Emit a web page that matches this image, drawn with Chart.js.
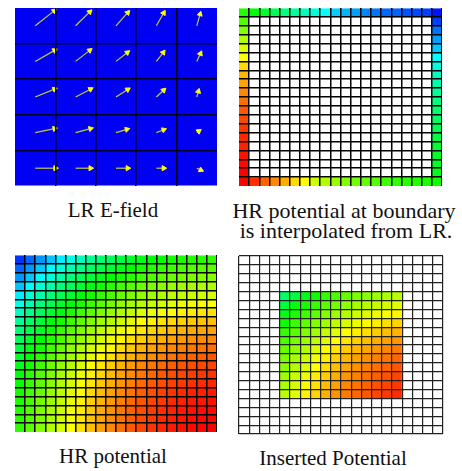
<!DOCTYPE html>
<html>
<head>
<meta charset="utf-8">
<script src="https://cdn.jsdelivr.net/npm/chart.js@4.4.1/dist/chart.umd.min.js"></script>
<style>
  body { margin: 0; background: #fff; }
  #fig { position: relative; width: 462px; height: 471px; overflow: hidden; }
  canvas { position: absolute; }
  .cap { position: absolute; font-family: "Liberation Serif", "Times New Roman", serif;
         font-size: 21px; line-height: 21px; color: #111; text-align: center; white-space: nowrap; width: 260px; }
  .cap.big { font-size: 22px; line-height: 22px; }
</style>
</head>
<body>
<div id="fig">
  <canvas id="p1" width="202" height="178" style="left:15px;top:8px"></canvas>
  <canvas id="p2" width="203" height="178" style="left:239px;top:8px"></canvas>
  <canvas id="p3" width="202" height="177" style="left:15px;top:255px"></canvas>
  <canvas id="p4" width="206" height="180" style="left:238px;top:255px"></canvas>
  <div class="cap" style="left:-17px;top:200px">LR E-field</div>
  <div class="cap big" style="left:214px;top:199.5px">HR potential at boundary</div>
  <div class="cap big" style="left:216px;top:220px">is interpolated from LR.</div>
  <div class="cap" style="left:-17px;top:446px">HR potential</div>
  <div class="cap" style="left:203px;top:448px">Inserted Potential</div>
</div>
<script>
// LR E-field: vector components per cell (cell units), rows top -> bottom
const fieldX = [
  [0.47, 0.35, 0.29, 0.18, 0.08],
  [0.48, 0.35, 0.28, 0.17, 0.09],
  [0.48, 0.37, 0.29, 0.18, 0.04],
  [0.48, 0.37, 0.27, 0.18, 0.05],
  [0.50, 0.37, 0.29, 0.18, 0.10]
];
const fieldY = [
  [0.42, 0.39, 0.37, 0.36, 0.33],
  [0.31, 0.31, 0.25, 0.25, 0.22],
  [0.22, 0.22, 0.21, 0.19, 0.16],
  [0.11, 0.11, 0.09, 0.08, 0.04],
  [0.00, 0.00, 0.00, 0.00, -0.05]
];

// boundary potential (hue, 0 = red ... 240 = blue)
const edgeTop    = [112, 122, 130, 140, 150, 157, 165, 172, 180, 191, 197, 202, 208, 212, 215, 217, 221, 223, 225, 236];
const edgeRight  = [236, 225, 213, 202, 193, 180, 173, 165, 160, 154, 150, 146, 143, 139, 135, 131, 129, 128, 126, 116];
const edgeLeft   = [112, 101, 90, 79, 69, 60, 51, 43, 38, 32, 26, 21, 17, 13, 9, 8, 4, 2, 0, 0];
const edgeBottom = [0, 11, 23, 32, 41, 51, 60, 71, 79, 84, 90, 94, 97, 101, 105, 109, 110, 112, 114, 116];

// HR potential (hue per cell), rows top -> bottom
const hrPotential = [
  [228, 216, 205, 194, 184, 174, 165, 156, 148, 142, 136, 131, 126, 122, 119, 116, 114, 112, 111, 110],
  [216, 204, 193, 181, 171, 161, 152, 144, 137, 131, 125, 120, 115, 111, 108, 105, 103, 101, 100, 99],
  [205, 193, 181, 170, 160, 150, 142, 134, 127, 121, 115, 110, 105, 101, 98, 95, 93, 91, 90, 89],
  [194, 181, 170, 159, 149, 140, 132, 124, 117, 111, 105, 100, 95, 91, 88, 85, 83, 81, 80, 79],
  [184, 171, 160, 149, 140, 131, 123, 115, 108, 102, 96, 91, 86, 82, 79, 76, 74, 72, 71, 70],
  [174, 161, 150, 140, 131, 122, 114, 106, 99, 93, 87, 82, 77, 73, 70, 67, 65, 63, 62, 61],
  [165, 152, 142, 132, 123, 114, 106, 98, 91, 85, 79, 74, 69, 65, 62, 59, 57, 55, 54, 53],
  [156, 144, 134, 124, 115, 106, 98, 90, 83, 77, 71, 66, 61, 57, 54, 51, 49, 47, 46, 45],
  [148, 137, 127, 117, 108, 99, 91, 83, 76, 70, 64, 59, 54, 50, 47, 44, 42, 40, 39, 38],
  [142, 131, 121, 111, 102, 93, 85, 77, 70, 64, 58, 53, 48, 44, 41, 38, 36, 34, 33, 32],
  [136, 125, 115, 105, 96, 87, 79, 71, 64, 58, 52, 47, 42, 38, 35, 32, 30, 28, 27, 26],
  [131, 120, 110, 100, 91, 82, 74, 66, 59, 53, 47, 42, 37, 33, 30, 27, 25, 23, 22, 21],
  [126, 115, 105, 95, 86, 77, 69, 61, 54, 48, 42, 37, 32, 28, 25, 22, 20, 18, 17, 16],
  [122, 111, 101, 91, 82, 73, 65, 57, 50, 44, 38, 33, 28, 24, 21, 18, 16, 14, 13, 12],
  [119, 108, 98, 88, 79, 70, 62, 54, 47, 41, 35, 30, 25, 21, 18, 15, 13, 11, 10, 9],
  [116, 105, 95, 85, 76, 67, 59, 51, 44, 38, 32, 27, 22, 18, 15, 12, 10, 8, 7, 6],
  [114, 103, 93, 83, 74, 65, 57, 49, 42, 36, 30, 25, 20, 16, 13, 10, 8, 6, 5, 4],
  [112, 101, 91, 81, 72, 63, 55, 47, 40, 34, 28, 23, 18, 14, 11, 8, 6, 4, 3, 2],
  [111, 100, 90, 80, 71, 62, 54, 46, 39, 33, 27, 22, 17, 13, 10, 7, 5, 3, 2, 1],
  [110, 99, 89, 79, 70, 61, 53, 45, 38, 32, 26, 21, 16, 12, 9, 6, 4, 2, 1, 0]
];

// inserted block (hue per cell), placed at rows/cols 4..15
const inserted = [
  [144, 134, 125, 117, 109, 102, 96, 91, 87, 83, 80, 77],
  [134, 124, 115, 107, 99, 92, 86, 81, 77, 73, 70, 67],
  [125, 115, 106, 98, 90, 83, 77, 72, 68, 64, 61, 58],
  [117, 107, 98, 90, 82, 75, 69, 64, 60, 56, 53, 50],
  [109, 99, 90, 82, 74, 67, 61, 56, 52, 48, 45, 42],
  [102, 92, 83, 75, 67, 60, 54, 49, 45, 41, 38, 35],
  [96, 86, 77, 69, 61, 54, 48, 43, 39, 35, 32, 29],
  [91, 81, 72, 64, 56, 49, 43, 38, 34, 30, 27, 24],
  [87, 77, 68, 60, 52, 45, 39, 34, 30, 26, 23, 20],
  [83, 73, 64, 56, 48, 41, 35, 30, 26, 22, 19, 16],
  [80, 70, 61, 53, 45, 38, 32, 27, 23, 19, 16, 13],
  [77, 67, 58, 50, 42, 35, 29, 24, 20, 16, 13, 10]
];
const insertAt = 4;
const N = 20;
const colLabels = Array.from({ length: N }, (_, i) => 'c' + (i + 1));

function hueColor(h) {
  return h == null ? '#ffffff' : `hsl(${h}, 100%, 50%)`;
}

function gridOpts(last, color, width, hideEdges) {
  return {
    z: 1,
    drawTicks: false,
    lineWidth: width,
    color: (ctx) => (hideEdges && (ctx.index === 0 || ctx.index === last)) ? 'rgba(0,0,0,0)' : color
  };
}

const common = {
  responsive: false,
  animation: false,
  events: [],
  plugins: { legend: { display: false }, tooltip: { enabled: false } }
};

// one stacked bar per cell
function cellChart(id, cells, lineColor, lineWidth, hideEdges, pad) {
  const datasets = cells.map(row => ({
    data: row.map(() => 1),
    backgroundColor: row.map(hueColor),
    borderWidth: 0,
    barPercentage: 1,
    categoryPercentage: 1
  }));
  return new Chart(document.getElementById(id), {
    type: 'bar',
    data: { labels: colLabels, datasets },
    options: {
      ...common,
      layout: { padding: pad, autoPadding: false },
      scales: {
        x: {
          stacked: true, offset: true,
          grid: { ...gridOpts(N, lineColor, lineWidth, hideEdges), offset: true },
          ticks: { display: false, autoSkip: false },
          border: { display: false }
        },
        y: {
          stacked: true, reverse: true, min: 0, max: N,
          grid: gridOpts(N, lineColor, lineWidth, hideEdges),
          ticks: { display: false, stepSize: 1, maxTicksLimit: 100 },
          border: { display: false }
        }
      }
    }
  });
}

// panel 2: only the boundary is known
const boundaryCells = Array.from({ length: N }, (_, r) => Array.from({ length: N }, (_, c) => {
  if (r === 0) return edgeTop[c];
  if (r === N - 1) return edgeBottom[c];
  if (c === 0) return edgeLeft[r];
  if (c === N - 1) return edgeRight[r];
  return null;
}));

// panel 4: inserted block in an empty grid
const insertedCells = Array.from({ length: N }, (_, r) => Array.from({ length: N }, (_, c) => {
  const i = r - insertAt, j = c - insertAt;
  return (inserted[i] && inserted[i][j] !== undefined) ? inserted[i][j] : null;
}));

cellChart('p2', boundaryCells, '#000', 1.5, true, 0);
cellChart('p3', hrPotential, '#000', 1.5, true, 0);
cellChart('p4', insertedCells, '#222', 1.2, false, 1);

// panel 1: LR field arrows on blue cells
const M = 5;
const arrowSets = [];
fieldX.forEach((row, r) => row.forEach((vx, c) => {
  const tx = c + 0.5, ty = M - r - 0.5;
  arrowSets.push({
    type: 'line',
    order: 0,
    data: [{ x: tx, y: ty }, { x: tx + vx, y: ty + fieldY[r][c] }],
    borderColor: '#c8c840',
    borderWidth: 1.2,
    tension: 0,
    pointRadius: [0, 3],
    pointStyle: 'triangle',
    pointBackgroundColor: '#ffff00',
    pointBorderColor: '#ffff00',
    pointBorderWidth: 1,
    pointRotation: (ctx) => {
      const xs = ctx.chart.scales.x, ys = ctx.chart.scales.y;
      const d = ctx.dataset.data;
      const dx = xs.getPixelForValue(d[1].x) - xs.getPixelForValue(d[0].x);
      const dy = ys.getPixelForValue(d[1].y) - ys.getPixelForValue(d[0].y);
      return Math.atan2(dx, -dy) * 180 / Math.PI;
    }
  });
}));

new Chart(document.getElementById('p1'), {
  type: 'bar',
  data: {
    datasets: [{
      type: 'bar',
      order: 1,
      data: fieldX[0].map((_, c) => ({ x: c + 0.5, y: M })),
      backgroundColor: '#0000f2',
      borderWidth: 0,
      barPercentage: 1,
      categoryPercentage: 1
    }, ...arrowSets]
  },
  options: {
    ...common,
    layout: { padding: 0, autoPadding: false },
    scales: {
      x: {
        type: 'linear', min: 0, max: M, offset: false,
        grid: { ...gridOpts(M, '#000020', 1.6, true), offset: false },
        ticks: { display: false, stepSize: 1 },
        border: { display: false }
      },
      y: {
        type: 'linear', min: 0, max: M,
        grid: gridOpts(M, '#000020', 1.6, true),
        ticks: { display: false, stepSize: 1 },
        border: { display: false }
      }
    }
  }
});
</script>
</body>
</html>
